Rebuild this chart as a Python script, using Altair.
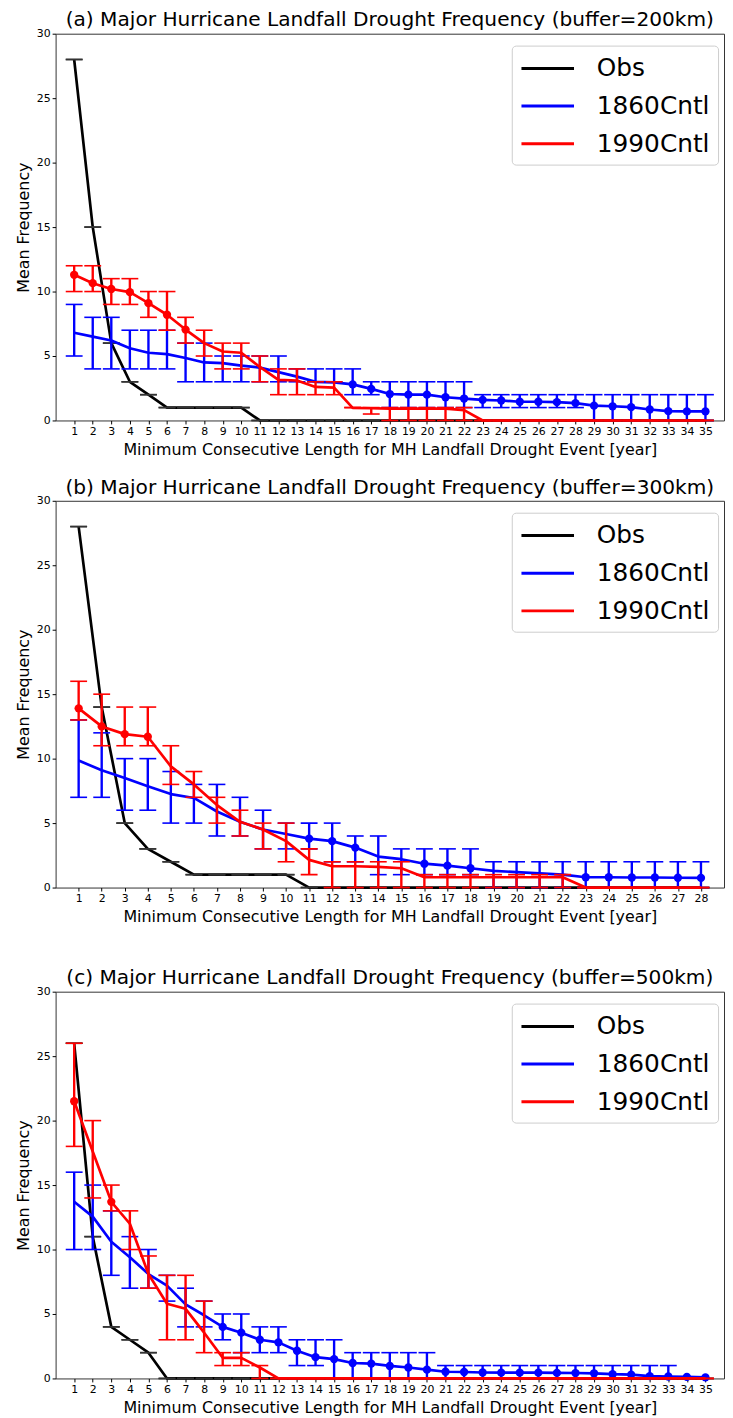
import altair as alt
import pandas as pd

FONT = "DejaVu Sans"
SERIES = ["Obs", "1860Cntl", "1990Cntl"]
COLORS = ["black", "blue", "red"]
CAP_COLORS = ["#333333", "blue", "red"]

XTITLE = "Minimum Consecutive Length for MH Landfall Drought Event [year]"
YTITLE = "Mean Frequency"
Y_TICKS = [0, 5, 10, 15, 20, 25, 30]

# ---------------- panel (a) buffer=200km ----------------
TITLE_A = "(a) Major Hurricane Landfall Drought Frequency (buffer=200km)"
X_A = list(range(1, 36))
OBS_A = [28, 15, 6, 3, 2, 1, 1, 1, 1, 1,
         0, 0, 0, 0, 0, 0, 0, 0, 0, 0,
         0, 0, 0, 0, 0, 0, 0, 0, 0, 0,
         0, 0, 0, 0, 0]
BLUE_A = [6.8, 6.5, 6.2, 5.6, 5.25, 5.15, 4.85, 4.5, 4.45, 4.25,
          4.1, 3.75, 3.4, 3.0, 2.95, 2.8, 2.45, 2.05, 2.0, 2.0,
          1.8, 1.7, 1.6, 1.55, 1.45, 1.45, 1.42, 1.35, 1.15, 1.1,
          1.03, 0.85, 0.72, 0.7, 0.7]
BLUE_A_LO = [5, 4, 4, 4, 4, 4, 3, 3, 3, 3,
             3, 3, 3, 3, 3, 2, 2, 1, 1, 1,
             1, 1, 1, 1, 1, 1, 1, 1, 0, 0,
             0, 0, 0, 0, 0]
BLUE_A_HI = [9, 8, 8, 7, 7, 7, 6, 6, 5, 5,
             5, 5, 4, 4, 4, 4, 3, 3, 3, 3,
             3, 3, 2, 2, 2, 2, 2, 2, 2, 2,
             2, 2, 2, 2, 2]
BLUE_A_DOTS = [16, 17, 18, 19, 20, 21, 22, 23, 24, 25, 26, 27, 28, 29, 30,
               31, 32, 33, 34, 35]
RED_A = [11.3, 10.65, 10.2, 9.95, 9.1, 8.2, 7.05, 6.0, 5.35, 5.25,
         4.15, 3.15, 3.1, 2.6, 2.55, 0.98, 0.95, 0.92, 0.92, 0.92,
         0.92, 0.8, 0, 0, 0, 0, 0, 0, 0, 0,
         0, 0, 0, 0, 0]
RED_A_LO = [10, 10, 9, 9, 8, 7, 6, 5, 4, 4,
            3, 2, 2, 2, 2, 1, 0.5, 0, 0, 0,
            0, 0, 0, 0, 0, 0, 0, 0, 0, 0,
            0, 0, 0, 0, 0]
RED_A_HI = [12, 12, 11, 11, 10, 10, 8, 7, 6, 6,
            5, 4, 4, 3, 3, 1, 1, 1, 1, 1,
            1, 1, 0, 0, 0, 0, 0, 0, 0, 0,
            0, 0, 0, 0, 0]
RED_A_DOTS = [1, 2, 3, 4, 5, 6, 7]

# ---------------- panel (b) buffer=300km ----------------
TITLE_B = "(b) Major Hurricane Landfall Drought Frequency (buffer=300km)"
X_B = list(range(1, 29))
OBS_B = [28, 14, 5, 3, 2, 1, 1, 1, 1, 1,
         0, 0, 0, 0, 0, 0, 0, 0, 0, 0,
         0, 0, 0, 0, 0, 0, 0, 0]
BLUE_B = [9.85, 9.1, 8.5, 7.85, 7.25, 6.95, 5.9, 5.1, 4.5, 4.15,
          3.8, 3.6, 3.1, 2.4, 2.2, 1.85, 1.7, 1.5, 1.3, 1.2,
          1.1, 1.0, 0.8, 0.8, 0.78, 0.78, 0.76, 0.75]
BLUE_B_LO = [7, 7, 6, 6, 5, 5, 4, 4, 3, 3,
             3, 2, 2, 1, 1, 1, 1, 1, 0, 0,
             0, 0, 0, 0, 0, 0, 0, 0]
BLUE_B_HI = [13, 12, 10, 10, 9, 8, 8, 7, 6, 5,
             5, 5, 4, 4, 3, 3, 3, 3, 2, 2,
             2, 2, 2, 2, 2, 2, 2, 2]
BLUE_B_DOTS = [11, 12, 13, 16, 17, 18, 23, 24, 25, 26, 27, 28]
RED_B = [13.9, 12.5, 11.9, 11.7, 9.4, 8.0, 6.4, 5.1, 4.5, 3.6,
         2.15, 1.65, 1.65, 1.6, 1.5, 0.8, 0.8, 0.8, 0.8, 0.8,
         0.8, 0.8, 0, 0, 0, 0, 0, 0]
RED_B_LO = [13, 11, 11, 11, 8, 7, 5, 4, 3, 2,
            1, 0, 0, 0, 0, 0, 0, 0, 0, 0,
            0, 0, 0, 0, 0, 0, 0, 0]
RED_B_HI = [16, 15, 14, 14, 11, 9, 7, 6, 5, 5,
            3, 2, 2, 2, 2, 1, 1, 1, 1, 1,
            1, 1, 0, 0, 0, 0, 0, 0]
RED_B_DOTS = [1, 2, 3, 4]

# ---------------- panel (c) buffer=500km ----------------
TITLE_C = "(c) Major Hurricane Landfall Drought Frequency (buffer=500km)"
X_C = list(range(1, 36))
OBS_C = [26, 11, 4, 3, 2, 0, 0, 0, 0, 0,
         0, 0, 0, 0, 0, 0, 0, 0, 0, 0,
         0, 0, 0, 0, 0, 0, 0, 0, 0, 0,
         0, 0, 0, 0, 0]
BLUE_C = [13.7, 12.55, 10.6, 9.4, 8.1, 7.2, 5.75, 4.9, 4.0, 3.55,
          3.0, 2.8, 2.15, 1.65, 1.5, 1.2, 1.15, 0.97, 0.85, 0.68,
          0.52, 0.5, 0.46, 0.45, 0.45, 0.45, 0.43, 0.42, 0.4, 0.33,
          0.3, 0.18, 0.15, 0.12, 0.08]
BLUE_C_LO = [10, 10, 8, 7, 7, 6, 4, 4, 3, 2,
             2, 2, 1, 1, 0, 0, 0, 0, 0, 0,
             0, 0, 0, 0, 0, 0, 0, 0, 0, 0,
             0, 0, 0, None, None]
BLUE_C_HI = [16, 15, 13, 11, 10, 8, 7, 6, 5, 5,
             4, 4, 3, 3, 3, 2, 2, 2, 2, 2,
             1, 1, 1, 1, 1, 1, 1, 1, 1, 1,
             1, 1, 1, None, None]
BLUE_C_DOTS = [9, 10, 11, 12, 13, 14, 15, 16, 17, 18, 19, 20, 21, 22, 23,
               24, 25, 26, 27, 28, 29, 30, 31, 32, 33, 34, 35]
RED_C = [21.5, 17.6, 13.7, 12.0, 8.1, 5.8, 5.4, 3.55, 1.6, 1.6,
         0.85, 0, 0, 0, 0, 0, 0, 0, 0, 0,
         0, 0, 0, 0, 0, 0, 0, 0, 0, 0,
         0, 0, 0, 0, 0]
RED_C_LO = [18, 14, 13, 10, 7, 3, 3, 2, 1, 1,
            0, 0, 0, 0, 0, 0, 0, 0, 0, 0,
            0, 0, 0, 0, 0, 0, 0, 0, 0, 0,
            0, 0, 0, 0, 0]
RED_C_HI = [26, 20, 15, 13, 9.5, 8, 8, 6, 2, 2,
            1, 0, 0, 0, 0, 0, 0, 0, 0, 0,
            0, 0, 0, 0, 0, 0, 0, 0, 0, 0,
            0, 0, 0, 0, 0]
RED_C_DOTS = [1, 3]

PLOT_W = 674
PLOT_H = 390


def frame(xs, obs, blue, blue_lo, blue_hi, blue_dots, red, red_lo, red_hi, red_dots):
    rows = []
    for i, x in enumerate(xs):
        rows.append(dict(x=x, series="Obs", v=obs[i], lo=obs[i], hi=obs[i], dot=False))
        rows.append(dict(x=x, series="1860Cntl", v=blue[i], lo=blue_lo[i],
                         hi=blue_hi[i], dot=x in blue_dots))
        rows.append(dict(x=x, series="1990Cntl", v=red[i], lo=red_lo[i],
                         hi=red_hi[i], dot=x in red_dots))
    return pd.DataFrame(rows)


cscale = alt.Scale(domain=SERIES, range=COLORS)
legend = alt.Legend(
    orient="none", legendX=460, legendY=12, title=None,
    symbolType="M-2,0L2,0", symbolSize=702, symbolStrokeWidth=3,
    symbolOffset=13.25,
    labelFont=FONT, labelFontSize=25, labelColor="black", labelOffset=34.5,
    padding=8, rowPadding=10, strokeColor="#cccccc", fillColor="white",
    cornerRadius=4, labelLimit=400,
)


def panel(df, xs, title):
    n = len(xs)
    xenc = alt.X("x:Q", scale=alt.Scale(domain=[0, n + 1], nice=False, zero=False),
                 axis=alt.Axis(values=xs, title=XTITLE, labelOverlap=False,
                               labelFlush=False, format="d"))
    yscale = alt.Scale(domain=[0, 30], nice=False)
    yaxis = alt.Axis(values=Y_TICKS, title=YTITLE, format="d")
    layers = []
    for s, c, cc in zip(SERIES, COLORS, CAP_COLORS):
        base = alt.Chart(df).transform_filter(alt.datum.series == s)
        line = base.mark_line(strokeWidth=2.7, strokeJoin="round").encode(
            x=xenc,
            y=alt.Y("v:Q", scale=yscale, axis=yaxis),
            color=alt.Color("series:N", scale=cscale, legend=legend),
        )
        layers.append(line)
        if s != "Obs":
            bars = base.mark_rule(strokeWidth=2.4, color=c).encode(
                x=xenc, y=alt.Y("lo:Q", scale=yscale, axis=yaxis), y2="hi:Q")
            layers.append(bars)
        for fld in ["lo", "hi"]:
            cap = base.mark_tick(orient="horizontal", size=17, thickness=1.6,
                                 color=cc, opacity=1).encode(
                x=xenc, y=alt.Y(f"{fld}:Q", scale=yscale, axis=yaxis))
            layers.append(cap)
        if s != "Obs":
            dots = base.transform_filter(alt.datum.dot == True).mark_circle(
                size=70, opacity=1, color=c).encode(
                x=xenc, y=alt.Y("v:Q", scale=yscale, axis=yaxis))
            layers.append(dots)
    return alt.layer(*layers).properties(
        width=PLOT_W, height=PLOT_H,
        title=alt.Title(title, fontSize=20.3, font=FONT, fontWeight="normal",
                        color="black", offset=-3, anchor="middle", frame="group"),
    )


df_a = frame(X_A, OBS_A, BLUE_A, BLUE_A_LO, BLUE_A_HI, BLUE_A_DOTS,
             RED_A, RED_A_LO, RED_A_HI, RED_A_DOTS)
df_b = frame(X_B, OBS_B, BLUE_B, BLUE_B_LO, BLUE_B_HI, BLUE_B_DOTS,
             RED_B, RED_B_LO, RED_B_HI, RED_B_DOTS)
df_c = frame(X_C, OBS_C, BLUE_C, BLUE_C_LO, BLUE_C_HI, BLUE_C_DOTS,
             RED_C, RED_C_LO, RED_C_HI, RED_C_DOTS)

pa = panel(df_a, X_A, TITLE_A)
pb = panel(df_b, X_B, TITLE_B)
pc = panel(df_c, X_C, TITLE_C)

top = alt.vconcat(pa, pb, spacing=19).resolve_scale(color="independent").resolve_legend(color="independent")
chart = alt.vconcat(top, pc, spacing=43).resolve_scale(color="independent").resolve_legend(color="independent")

chart = chart.properties(
    padding={"left": 7, "top": -4, "right": 0, "bottom": 0},
).configure_axis(
    labelFont=FONT, titleFont=FONT, labelFontSize=11, titleFontSize=16,
    titleFontWeight="normal", labelColor="black", titleColor="black",
    tickColor="black", tickSize=3.5, grid=False, domain=False,
    labelPadding=2, titlePadding=5,
).configure_view(stroke="#333333", strokeWidth=1)

chart.save("out.html", embed_options={"renderer": "svg", "actions": False})
